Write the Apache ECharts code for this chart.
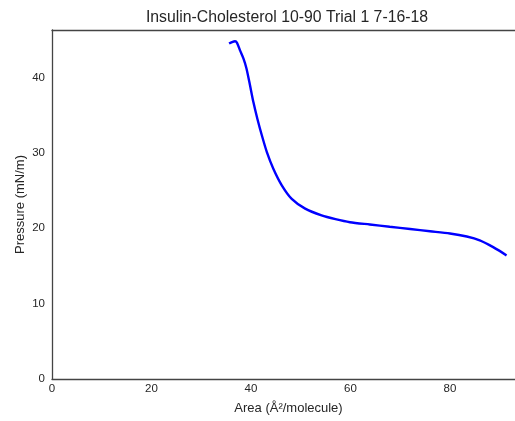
<!DOCTYPE html>
<html>
<head>
<meta charset="utf-8">
<script src="https://cdn.jsdelivr.net/npm/echarts@6/dist/echarts.min.js"></script>
<style>html,body{margin:0;padding:0;background:#fff;overflow:hidden}#c{width:515px;height:421px}</style>
</head>
<body>
<div id="c"></div>
<script>
const titleText = "Insulin-Cholesterol 10-90 Trial 1 7-16-18";
const xName = "Area (Å²/molecule)";
const yName = "Pressure (mN/m)";
const areaVals = [35.6, 36.2, 36.8, 37.2, 37.8, 38.5, 39.1, 39.8, 40.5, 41.3, 42.2, 43.2, 44.5, 46.2, 48.2, 50.9, 54.2, 57.0, 59.9, 63.9, 67.9, 72.0, 76.0, 80.0, 83.4, 86.0, 88.7, 91.4];
const pressureVals = [44.5, 44.7, 44.8, 44.6, 43.6, 42.5, 41.2, 39.0, 36.7, 34.5, 32.3, 30.1, 27.9, 25.7, 23.9, 22.6, 21.7, 21.2, 20.8, 20.5, 20.2, 19.9, 19.6, 19.3, 18.9, 18.4, 17.5, 16.4];
const xTicks = [0, 20, 40, 60, 80];
const yTicks = [0, 10, 20, 30, 40];

const pts = areaVals.map((a, i) => [a, pressureVals[i]]);
const txt = '#262626';
const spine = { show: true, lineStyle: { color: '#444', width: 1.3 } };
const chart = echarts.init(document.getElementById('c'));
chart.setOption({
  animation: false,
  backgroundColor: '#fff',
  title: {
    text: titleText, left: 282, top: 5, textAlign: 'center',
    textStyle: { fontFamily: 'Liberation Sans', fontSize: 15.8, fontWeight: 'normal', color: txt }
  },
  grid: {
    left: 52, top: 30, right: -10, bottom: 42, show: false, outerBoundsMode: 'none'
  },
  xAxis: [{
    type: 'value', min: 0, max: 95.1, interval: 20, position: 'bottom',
    name: xName, nameLocation: 'middle', nameGap: 23, nameMoveOverlap: false,
    nameTextStyle: { fontFamily: 'Liberation Sans', fontSize: 13, color: txt },
    axisLine: spine, axisTick: { show: false }, splitLine: { show: false },
    axisLabel: {
      margin: 4, fontFamily: 'Liberation Sans', fontSize: 11.5, color: txt,
      showMaxLabel: false,
      formatter: v => xTicks.includes(v) ? String(v) : ''
    }
  }, {
    type: 'value', min: 0, max: 95.1, interval: 20, position: 'top',
    axisLine: spine, axisTick: { show: false }, axisLabel: { show: false }, splitLine: { show: false }
  }],
  yAxis: {
    type: 'value', min: 0, max: 46.3, interval: 10,
    name: yName, nameLocation: 'middle', nameGap: 25, nameMoveOverlap: false,
    nameTextStyle: { fontFamily: 'Liberation Sans', fontSize: 13, color: txt },
    axisLine: spine, axisTick: { show: false }, splitLine: { show: false },
    axisLabel: {
      margin: 7, fontFamily: 'Liberation Sans', fontSize: 11.5, color: txt,
      showMaxLabel: false,
      formatter: v => yTicks.includes(v) ? String(v) : ''
    }
  },
  series: [{
    type: 'line', data: pts, showSymbol: false, smooth: 0.25,
    lineStyle: { color: '#0000ff', width: 2.4 }
  }]
});
</script>
</body>
</html>
